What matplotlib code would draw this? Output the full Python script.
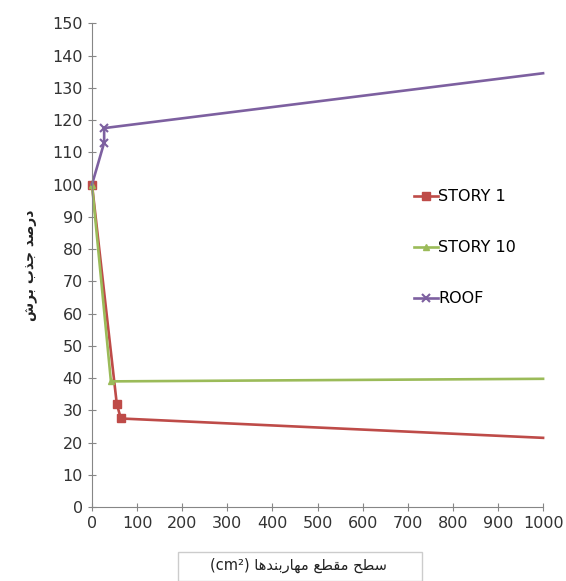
import matplotlib.pyplot as plt
from matplotlib.patches import Rectangle

plt.rcParams['font.family'] = ['DejaVu Sans']

# data
x_story1 = [0, 55, 64, 1000]
y_story1 = [100, 32, 27.5, 21.5]
x_story10 = [0, 42, 1000]
y_story10 = [100, 39, 39.8]
x_roof = [0, 27, 27, 1000]
y_roof = [100, 113, 117.5, 134.5]
series_names = ["STORY 1", "STORY 10", "ROOF"]
x_ticks = list(range(0, 1001, 100))
y_ticks = list(range(0, 151, 10))

# Arabic text written in visual (shaped) order so it renders without a shaping engine
ylabel = "\uFEB5\uFEAE\uFE91 \uFE8F\uFEAC\uFE9F \uFEAA\uFEBB\uFEAD\uFEA9"
xlabel = ("(cm\u00b2) \uFE8E\uFEEB\uFEAA\uFEE8\uFE91\uFEAD\uFE8E\uFEEC\uFEE3 "
          "\uFECA\uFEC4\uFED8\uFEE3 \uFEA2\uFEC4\uFEB3")

fig = plt.figure(figsize=(5.66, 5.81), dpi=100)
ax = fig.add_axes([0.1625, 0.127, 0.797, 0.833])

ax.plot(x_story1, y_story1, color="#BE4B48", lw=1.9, marker="s", ms=6,
        markevery=[0, 1, 2], label=series_names[0], clip_on=False)
ax.plot(x_story10, y_story10, color="#9BBB59", lw=1.9, marker="^", ms=5,
        markevery=[0, 1], label=series_names[1], clip_on=False)
ax.plot(x_roof, y_roof, color="#7D60A0", lw=1.9, marker="x", ms=6, mew=1.5,
        markevery=[1, 2], label=series_names[2], clip_on=False)

ax.set_xlim(0, 1000)
ax.set_ylim(0, 150)
ax.set_xticks(x_ticks)
ax.set_yticks(y_ticks)
for s in ["top", "right"]:
    ax.spines[s].set_visible(False)
for s in ["left", "bottom"]:
    ax.spines[s].set_color("#868686")
ax.tick_params(axis="both", labelsize=11.5, colors="#868686", labelcolor="#333333",
               direction="inout", length=6)

ax.set_ylabel(ylabel, fontsize=10, fontweight="bold", color="#222222", labelpad=10)

fig.text(0.527, 0.027, xlabel, ha="center", va="center", fontsize=10.5, color="#222222")
fig.patches.append(Rectangle((0.315, 0.0), 0.43, 0.05, transform=fig.transFigure,
                             fill=False, edgecolor="#cccccc", lw=1))

ax.legend(loc="upper left", bbox_to_anchor=(0.7, 0.67), frameon=False, fontsize=11.5,
          labelspacing=2.25, handlelength=1.5, handletextpad=0.0, borderaxespad=0)

fig.savefig("out.png", dpi=100)
